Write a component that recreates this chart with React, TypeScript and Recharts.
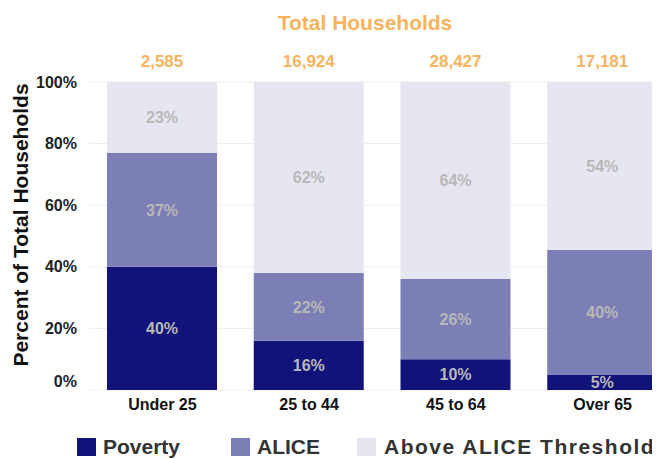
import React from "react";
import {
  BarChart,
  Bar,
  XAxis,
  YAxis,
  CartesianGrid,
  Legend,
  LabelList,
} from "recharts";

const categories = ["Under 25", "25 to 44", "45 to 64", "Over 65"];
const totals = [2585, 16924, 28427, 17181];
const poverty = [40, 16, 10, 5];
const alice = [37, 22, 26, 40];
const above = [23, 62, 64, 54];
const yTicks = [0, 0.2, 0.4, 0.6, 0.8, 1];

const series = [
  { key: "poverty", name: "Poverty", color: "#11137a" },
  { key: "alice", name: "ALICE", color: "#7c7fb6" },
  { key: "above", name: "Above ALICE Threshold", color: "#e6e6f1" },
];

const data = categories.map((name, i) => ({
  name,
  total: totals[i],
  poverty: poverty[i],
  alice: alice[i],
  above: above[i],
}));

const FONT = '"Liberation Sans", Arial, sans-serif';
const ORANGE = "#f8b35c";

function YTick(props: any) {
  const { x, y, payload } = props;
  // the 0% label sits a little above the baseline in the original
  const dy = payload.value === 0 ? -9 : 0;
  return (
    <text
      x={x}
      y={y + dy}
      textAnchor="end"
      dominantBaseline="central"
      fontSize={16}
      fontWeight="bold"
      fill="#222"
      fontFamily={FONT}
    >
      {Math.round(payload.value * 100)}%
    </text>
  );
}

function LegendContent() {
  const gaps = [51, 37, 0];
  const spacing = [0, 0, 1.5];
  return (
    <div
      style={{
        display: "flex",
        alignItems: "center",
        paddingLeft: 69,
        paddingTop: 17,
        fontFamily: FONT,
      }}
    >
      {series.map((s, i) => (
        <div
          key={s.key}
          style={{ display: "flex", alignItems: "center", marginRight: gaps[i] }}
        >
          <span
            style={{
              display: "inline-block",
              width: 19,
              height: 18,
              background: s.color,
              marginRight: i === 2 ? 8 : 7,
            }}
          />
          <span
            style={{
              fontSize: 21,
              fontWeight: "bold",
              color: "#333",
              lineHeight: "20px",
              whiteSpace: "nowrap",
              letterSpacing: spacing[i],
            }}
          >
            {s.name}
          </span>
        </div>
      ))}
    </div>
  );
}

export default function App() {
  return (
    <div
      style={{
        position: "relative",
        width: 652,
        height: 451,
        overflow: "hidden",
        fontFamily: FONT,
      }}
    >
      <div
        style={{
          position: "absolute",
          left: 257,
          top: 3,
          width: 200,
          textAlign: "center",
          fontSize: 21,
          lineHeight: "24px",
          fontWeight: "bold",
          color: ORANGE,
          zIndex: 2,
        }}
      >
        Total Households
      </div>
      <BarChart
        width={668}
        height={451}
        data={data}
        stackOffset="expand"
        margin={{ top: 74, right: 0, bottom: 0, left: 0 }}
      >
        <CartesianGrid vertical={false} stroke="#ededed" />
        <XAxis
          dataKey="name"
          axisLine={false}
          tickLine={false}
          tickSize={0}
          tickMargin={9}
          height={30}
          tick={{ fontSize: 16, fontWeight: "bold", fill: "#111", fontFamily: FONT }}
        />
        <YAxis
          width={81}
          domain={[0, 1]}
          ticks={yTicks}
          axisLine={false}
          tickLine={false}
          tickSize={0}
          tickMargin={12}
          tick={<YTick />}
          label={{
            content: () => (
              <text
                x={12}
                y={217}
                transform="rotate(-90 12 217)"
                textAnchor="middle"
                dominantBaseline="central"
                fontSize={21}
                fontWeight="bold"
                fill="#111"
                fontFamily={FONT}
              >
                Percent of Total Households
              </text>
            ),
          }}
        />
        <Legend verticalAlign="bottom" height={39} content={<LegendContent />} />
        {series.map((s) => (
          <Bar
            key={s.key}
            dataKey={s.key}
            name={s.name}
            stackId="a"
            fill={s.color}
            barSize={110}
            isAnimationActive={false}
          >
            <LabelList
              dataKey={s.key}
              position="center"
              formatter={(v: any) => `${v}%`}
              style={{ fontSize: 16, fontWeight: "bold", fill: "#b8b8b8", fontFamily: FONT }}
            />
            {s.key === "above" && (
              <LabelList
                dataKey="total"
                position="top"
                offset={15}
                formatter={(v: any) => Number(v).toLocaleString("en-US")}
                style={{ fontSize: 17, fontWeight: "bold", fill: ORANGE, fontFamily: FONT }}
              />
            )}
          </Bar>
        ))}
      </BarChart>
    </div>
  );
}
